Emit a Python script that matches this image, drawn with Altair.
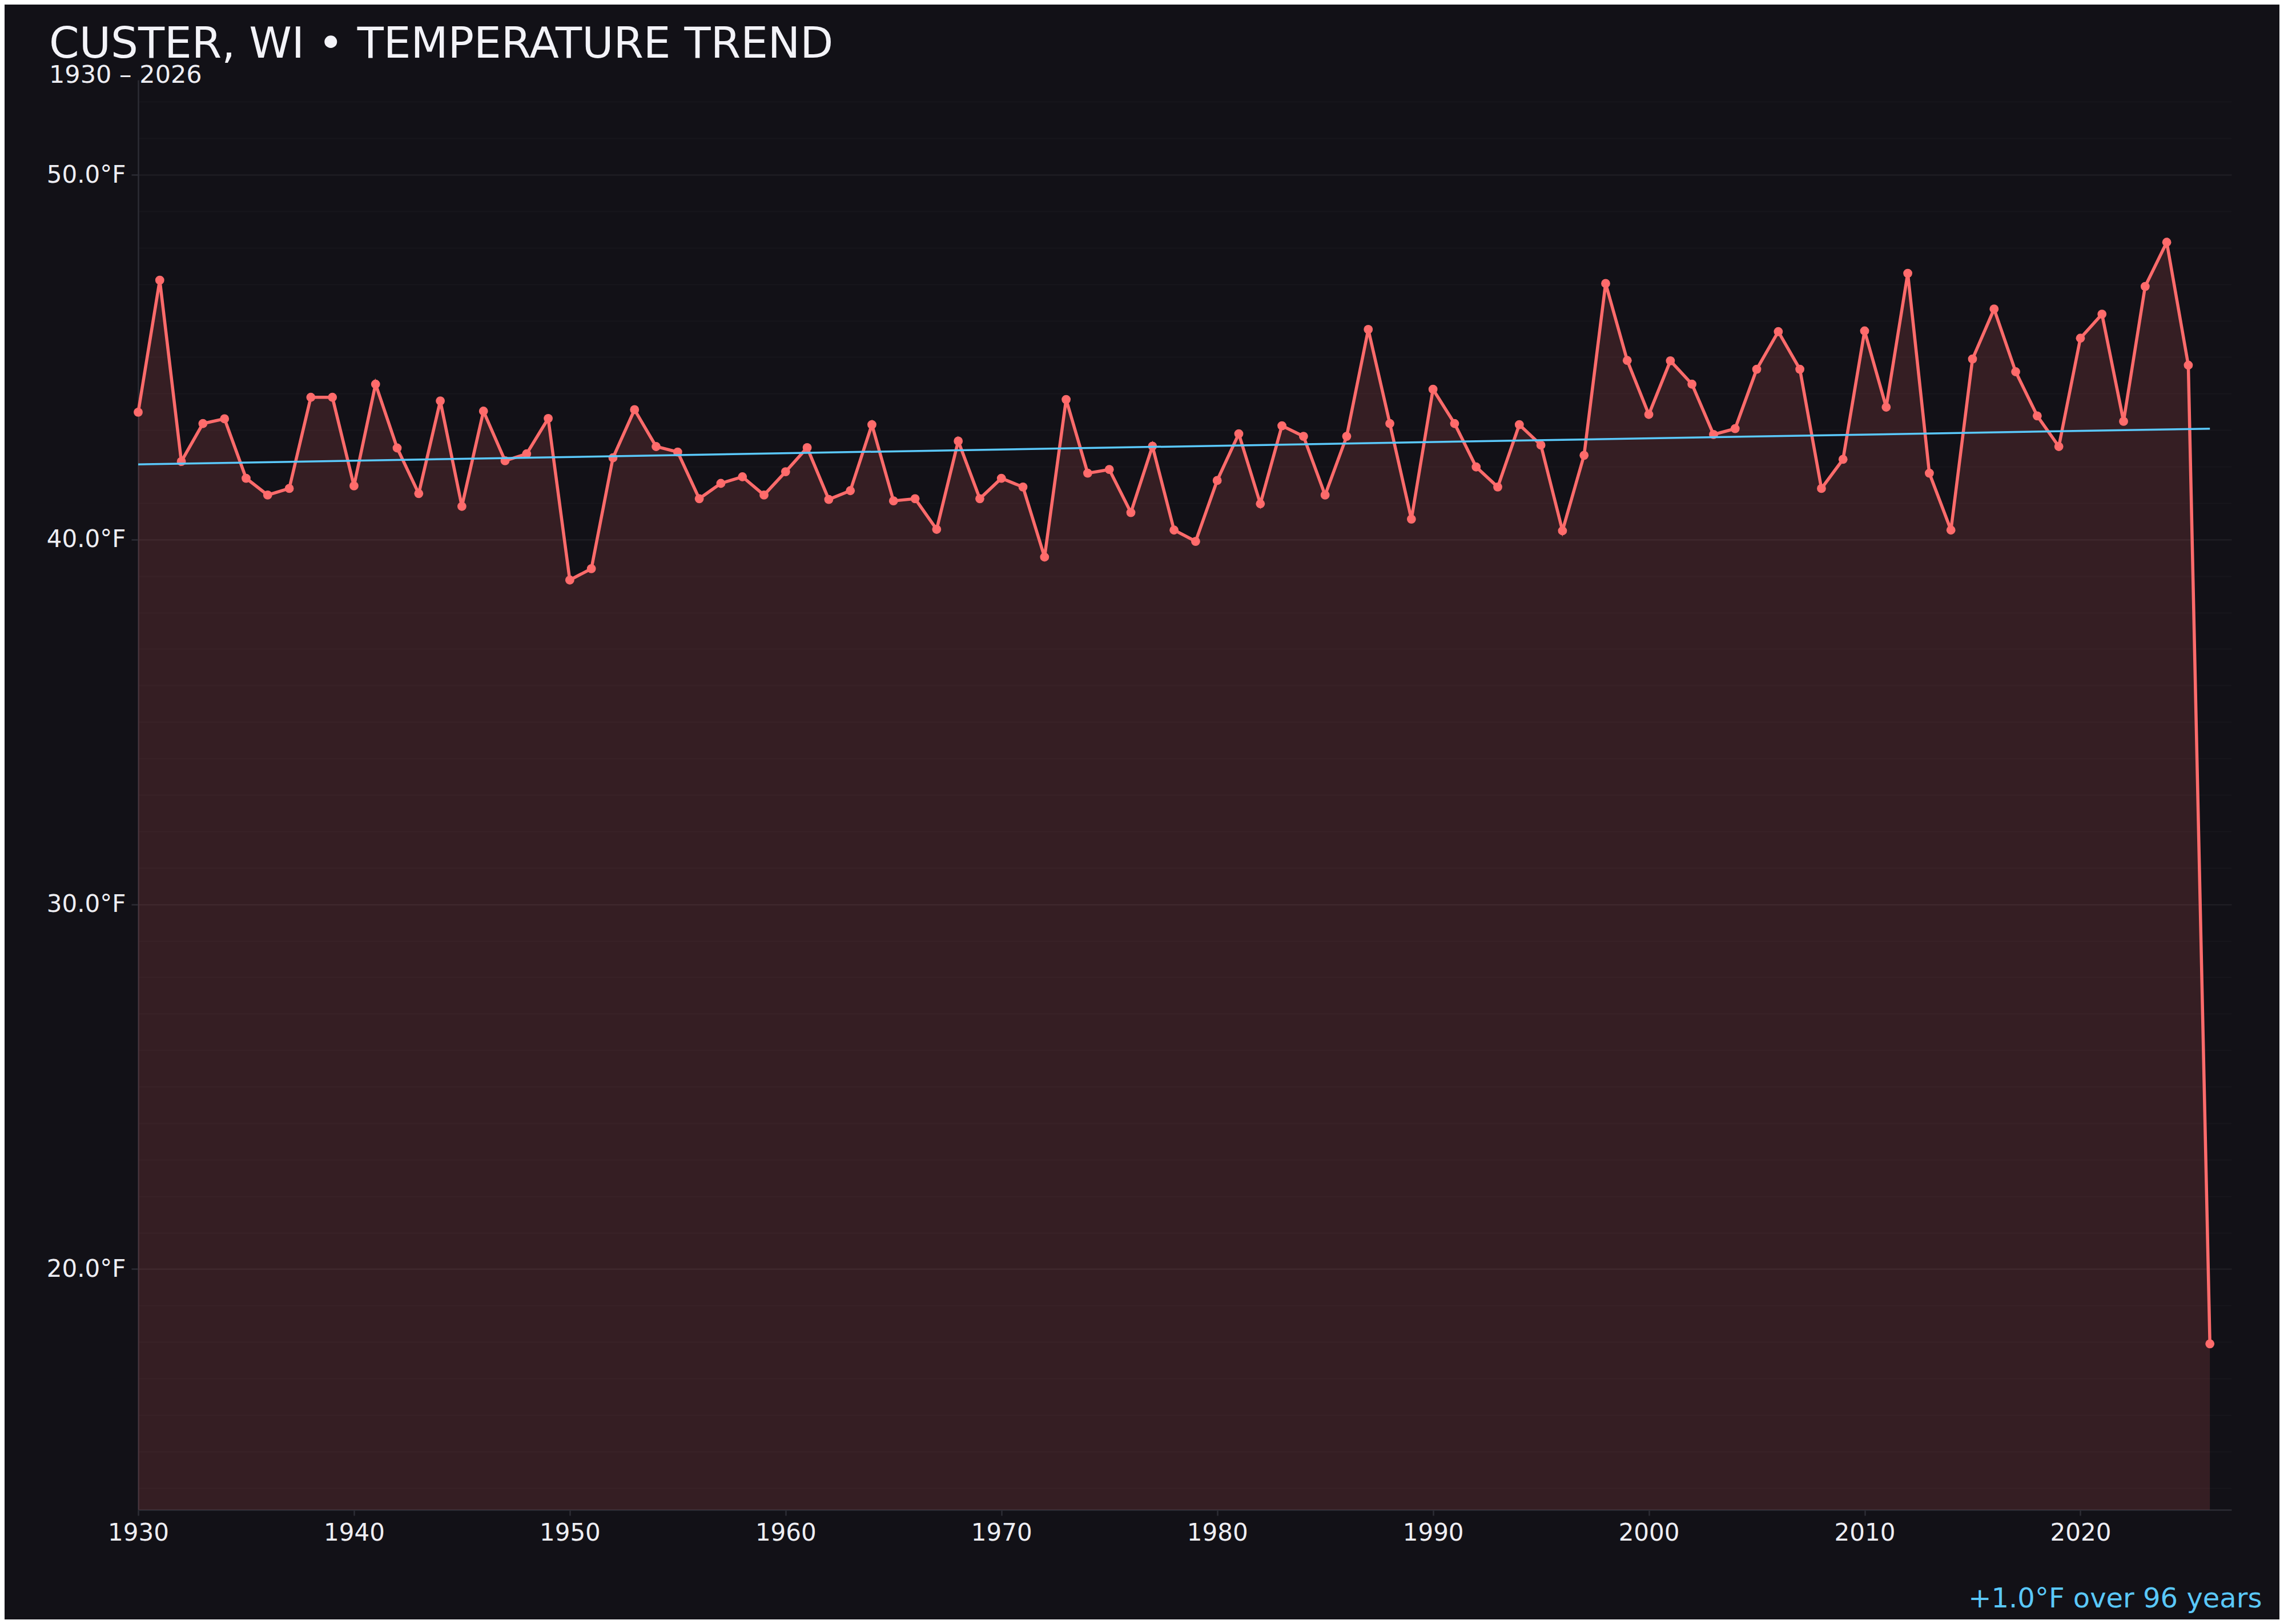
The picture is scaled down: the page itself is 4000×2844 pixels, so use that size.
import altair as alt
import pandas as pd

# ---------------- data ----------------
years = list(range(1930, 2027))
temps = [
    43.49, 47.11, 42.14, 43.18, 43.31, 41.68, 41.22, 41.40, 43.90, 43.90,  # 1930-1939
    41.47, 44.26, 42.51, 41.26, 43.80, 40.91, 43.52, 42.16, 42.35, 43.32,  # 1940-1949
    38.89, 39.20, 42.24, 43.56, 42.55, 42.40, 41.12, 41.54, 41.72, 41.22,  # 1950-1959
    41.86, 42.52, 41.10, 41.34, 43.15, 41.06, 41.12, 40.28, 42.70, 41.12,  # 1960-1969
    41.68, 41.44, 39.52, 43.84, 41.82, 41.92, 40.74, 42.56, 40.26, 39.95,  # 1970-1979
    41.62, 42.90, 40.98, 43.12, 42.83, 41.22, 42.83, 45.76, 43.18, 40.56,  # 1980-1989
    44.12, 43.18, 41.99, 41.44, 43.15, 42.59, 40.24, 42.31, 47.02, 44.91,  # 1990-1999
    43.43, 44.90, 44.26, 42.88, 43.04, 44.67, 45.70, 44.67, 41.40, 42.20,  # 2000-2009
    45.72, 43.63, 47.30, 41.82, 40.26, 44.95, 46.32, 44.60, 43.39, 42.55,  # 2010-2019
    45.52, 46.18, 43.24, 46.94, 48.15, 44.78, 17.95,                       # 2020-2026
]
trend_years = [1930, 2026]
trend_temps = [42.06, 43.04]
x_tick_values = [1930, 1940, 1950, 1960, 1970, 1980, 1990, 2000, 2010, 2020]
y_grid_values = list(range(14, 53))

TITLE = "CUSTER, WI \u2022 TEMPERATURE TREND"
SUBTITLE = f"{years[0]} \u2013 {years[-1]}"
NOTE = f"{trend_temps[1] - trend_temps[0]:+.1f}\u00b0F over {trend_years[1] - trend_years[0]} years"

# ---------------- styles ----------------
FONT = "DejaVu Sans"
BG = "#121117"
RED = "#ff6b6b"
BLUE = "#5ac8fa"
AXIS_GRAY = "#2c2c35"
TEXT = "#eeeef3"

df = pd.DataFrame({"year": years, "temp": temps})
tdf = pd.DataFrame({"year": trend_years, "temp": trend_temps})

x_enc = alt.X(
    "year:Q",
    scale=alt.Scale(domain=[1930, 2027], nice=False, zero=False),
    axis=alt.Axis(
        values=x_tick_values,
        format="d",
        grid=False,
        labelFlush=False,
        labelFont=FONT,
        labelFontSize=42,
        labelColor=TEXT,
        labelPadding=10,
        tickSize=10,
        tickWidth=2.5,
        tickColor=AXIS_GRAY,
        domainColor=AXIS_GRAY,
        domainWidth=2.5,
        title=NOTE,
        titleFont=FONT,
        titleFontSize=48,
        titleFontWeight="normal",
        titleColor=BLUE,
        titleX=3719,
        titleY=170,
        titleAlign="right",
        titleBaseline="alphabetic",
    ),
)

major_test = "datum.value % 10 === 0"
y_enc = alt.Y(
    "temp:Q",
    scale=alt.Scale(domain=[13.4, 52.6], nice=False, zero=False),
    axis=alt.Axis(
        values=y_grid_values,
        labelExpr=f"{major_test} ? format(datum.value, '.1f') + '\u00b0F' : ''",
        title=None,
        labelFlush=False,
        labelFont=FONT,
        labelFontSize=42,
        labelColor=TEXT,
        labelPadding=10,
        tickSize=12,
        tickWidth=2.5,
        tickColor=AXIS_GRAY,
        tickOpacity={"condition": {"test": major_test, "value": 1}, "value": 0},
        gridColor={
            "condition": {"test": major_test, "value": "rgba(255,255,255,0.065)"},
            "value": "rgba(255,255,255,0.022)",
        },
        gridWidth=2,
        domainColor=AXIS_GRAY,
        domainWidth=2.5,
    ),
)

base = alt.Chart(df)

area = base.mark_area(color=RED, fillOpacity=0.15, strokeWidth=0, clip=True).encode(x=x_enc, y=y_enc)
line = base.mark_line(color=RED, strokeWidth=5.5).encode(x=x_enc, y=y_enc)
points = base.mark_circle(color=RED, size=250, opacity=1).encode(x=x_enc, y=y_enc)
trend = alt.Chart(tdf).mark_line(color=BLUE, strokeWidth=3.5).encode(x=x_enc, y=y_enc)

chart = (
    alt.layer(area, line, points, trend)
    .properties(
        width=3666,
        height=2504,
        autosize=alt.AutoSizeParams(type="none"),
        padding={"left": 234, "top": 132, "right": 84, "bottom": 192},
        background=BG,
        title=alt.TitleParams(
            text=TITLE,
            subtitle=SUBTITLE,
            anchor="start",
            frame="group",
            dx=-156,
            dy=14,
            offset=0,
            font=FONT,
            fontSize=75.5,
            fontWeight="normal",
            color="#f3f3f8",
            subtitleFont=FONT,
            subtitleFontSize=43,
            subtitleColor=TEXT,
            subtitlePadding=-5,
        ),
    )
    .configure_view(strokeWidth=0)
)

chart.save("out.html", embed_options={"renderer": "svg", "actions": False})
